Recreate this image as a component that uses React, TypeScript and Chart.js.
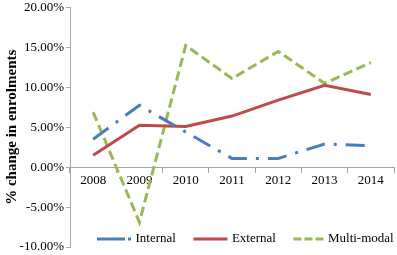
import { useEffect, useRef } from "react";
import { Chart, registerables } from "chart.js";

Chart.register(...registerables);

const years = ["2008", "2009", "2010", "2011", "2012", "2013", "2014"];
const internal = [3.5, 7.75, 4.4, 1.1, 1.1, 2.9, 2.7];
const external = [1.5, 5.25, 5.1, 6.4, 8.4, 10.25, 9.1];
const multiModal = [6.9, -6.9, 15.25, 11.1, 14.5, 10.5, 13.1];
const seriesNames = ["Internal", "External", "Multi-modal"];
const yMin = -10;
const yMax = 20;
const yStep = 5;
const yTitle = "% change in enrolments";

const SERIF = "'Liberation Serif', 'Times New Roman', serif";
const AXIS_GREY = "#a6a6a6";
const legendDash = [[28, 3, 3, 3], [], [8, 3]];
const legendSample = [34, 34, 30];

const legendPlugin = {
  id: "insideLegend",
  afterDraw(chart: any) {
    const ctx = chart.ctx;
    const area = chart.chartArea;
    const y = area.bottom - 8;
    let x = area.left + 27;
    ctx.save();
    ctx.font = `13px ${SERIF}`;
    ctx.textBaseline = "middle";
    ctx.textAlign = "left";
    chart.data.datasets.forEach((d: any, i: number) => {
      const len = legendSample[i];
      ctx.strokeStyle = d.borderColor;
      ctx.lineWidth = 3;
      ctx.lineCap = "butt";
      ctx.setLineDash(legendDash[i]);
      ctx.beginPath();
      ctx.moveTo(x, y);
      ctx.lineTo(x + len, y);
      ctx.stroke();
      ctx.setLineDash([]);
      ctx.fillStyle = "#000";
      ctx.fillText(d.label, x + len + 4.5, y);
      x += len + 4.5 + ctx.measureText(d.label).width + 17.5;
    });
    ctx.restore();
  },
};

function buildChart(canvas: HTMLCanvasElement) {
  return new Chart(canvas, {
    type: "line",
    data: {
      labels: years,
      datasets: [
        {
          label: seriesNames[0],
          data: internal,
          borderColor: "#4a7ebb",
          backgroundColor: "#4a7ebb",
          borderWidth: 3,
          borderDash: [19, 9, 3, 9],
          pointRadius: 0,
          tension: 0,
        },
        {
          label: seriesNames[1],
          data: external,
          borderColor: "#be4b48",
          backgroundColor: "#be4b48",
          borderWidth: 3,
          pointRadius: 0,
          tension: 0,
        },
        {
          label: seriesNames[2],
          data: multiModal,
          borderColor: "#98b954",
          backgroundColor: "#98b954",
          borderWidth: 3,
          borderDash: [9.5, 4.5],
          pointRadius: 0,
          tension: 0,
        },
      ],
    },
    options: {
      responsive: false,
      animation: false,
      devicePixelRatio: 1,
      layout: { padding: { left: 0, top: 7.5, right: 3, bottom: 8 } },
      plugins: {
        legend: { display: false },
        tooltip: { enabled: false },
      },
      scales: {
        x: {
          type: "category",
          position: { y: 0 } as any,
          offset: true,
          grid: {
            offset: true,
            drawOnChartArea: false,
            drawTicks: true,
            tickLength: 5,
            tickColor: AXIS_GREY,
          },
          border: { color: AXIS_GREY, width: 1 },
          ticks: {
            padding: 1,
            color: "#000",
            font: { family: SERIF, size: 13 },
            maxRotation: 0,
            autoSkip: false,
          },
          afterFit: (s: any) => {
            s.height = 0;
          },
        },
        y: {
          min: yMin,
          max: yMax,
          grid: {
            drawOnChartArea: false,
            drawTicks: true,
            tickLength: 4,
            tickColor: AXIS_GREY,
          },
          border: { color: AXIS_GREY, width: 1 },
          ticks: {
            stepSize: yStep,
            padding: 2,
            color: "#000",
            font: { family: SERIF, size: 13 },
            callback: (v: any) => Number(v).toFixed(2) + "%",
          },
          title: {
            display: true,
            text: yTitle,
            color: "#000",
            font: { family: SERIF, size: 15, weight: "bold" },
            padding: { top: 3, bottom: 0 },
          },
          afterFit: (s: any) => {
            s.width = 70;
            s.paddingTop = 0;
            s.paddingBottom = 0;
          },
        },
      },
    },
    plugins: [legendPlugin],
  });
}

export default function App() {
  const ref = useRef<HTMLCanvasElement | null>(null);

  useEffect(() => {
    if (!ref.current) return;
    let chart: Chart | null = buildChart(ref.current);
    let cancelled = false;
    const fonts: any = (document as any).fonts;
    if (fonts && fonts.load) {
      Promise.all([
        fonts.load("13px 'Liberation Serif'"),
        fonts.load("bold 15px 'Liberation Serif'"),
      ])
        .catch(() => null)
        .then(() => {
          if (cancelled || !ref.current) return;
          if (chart) chart.destroy();
          chart = buildChart(ref.current);
        });
    }
    return () => {
      cancelled = true;
      if (chart) chart.destroy();
      chart = null;
    };
  }, []);

  return (
    <div style={{ position: "fixed", left: 0, top: 0, width: 397, height: 255, background: "#fff" }}>
      <canvas ref={ref} width={397} height={255} style={{ display: "block" }} />
    </div>
  );
}
